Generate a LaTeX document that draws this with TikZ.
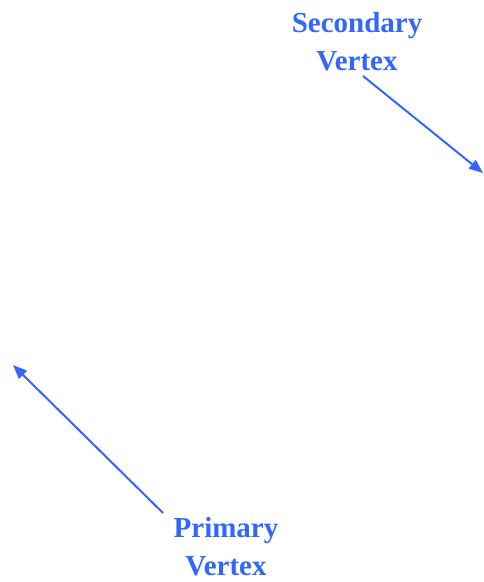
\documentclass[tikz,border=0pt]{standalone}
\usepackage{fontspec}
\setmainfont{Liberation Serif}
\usetikzlibrary{arrows.meta}
\definecolor{vblue}{RGB}{51,102,255}
\tikzset{
  vlabel/.style={text=vblue, font=\bfseries\fontsize{29}{38}\selectfont, align=center, inner sep=0pt, anchor=base},
  varrow/.style={draw=vblue, line width=2pt, -{Triangle[length=14pt,width=11pt]}}
}
\begin{document}
\begin{tikzpicture}[x=1pt,y=-1pt]
\useasboundingbox (0,0) rectangle (483,582);
\node[vlabel] (sec) at (357,70) {Secondary\\Vertex};
\node[vlabel] (pri) at (226,575) {Primary\\Vertex};
\coordinate (secstart) at (363,76);
\coordinate (secend) at (483,173);
\coordinate (pristart) at (163,513);
\coordinate (priend) at (13,365);
\draw[varrow] (secstart) -- (secend);
\draw[varrow] (pristart) -- (priend);
\end{tikzpicture}
\end{document}
